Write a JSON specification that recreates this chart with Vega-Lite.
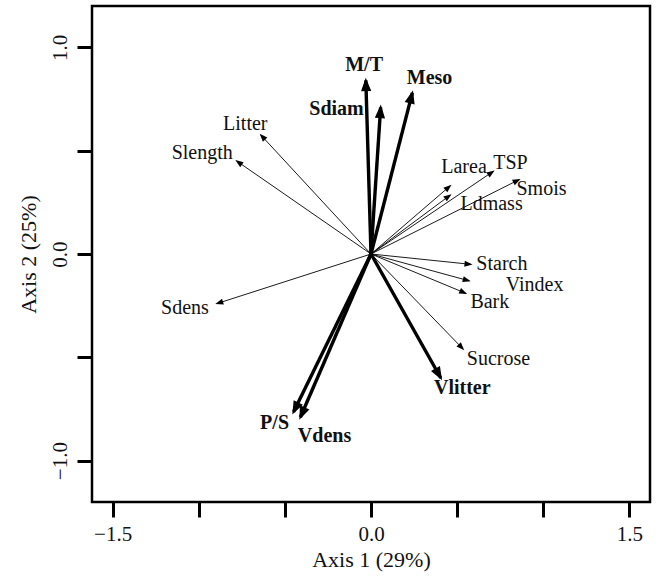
{
  "$schema": "https://vega.github.io/schema/vega-lite/v6.json",
  "width": 558,
  "height": 496,
  "autosize": {"type": "none"},
  "padding": {"left": 92, "top": 6, "right": 6, "bottom": 76},
  "background": "white",
  "config": {
    "view": {"stroke": "#000", "strokeWidth": 2.5},
    "font": "Liberation Serif",
    "axis": {
      "domain": false,
      "grid": false,
      "tickColor": "#000",
      "tickSize": 15,
      "tickWidth": 3,
      "labelFont": "Liberation Serif",
      "labelFontSize": 21,
      "labelColor": "#111",
      "titleFont": "Liberation Serif",
      "titleFontSize": 22,
      "titleFontWeight": "normal",
      "titleColor": "#111"
    }
  },
  "data": {
    "values": [
      {"name": "M/T", "x": -0.03, "y": 0.84, "lx": -0.04, "ly": 0.915, "type": "bold"},
      {"name": "Sdiam", "x": 0.056, "y": 0.71, "lx": -0.2, "ly": 0.7, "type": "bold"},
      {"name": "Meso", "x": 0.24, "y": 0.78, "lx": 0.34, "ly": 0.85, "type": "bold"},
      {"name": "Larea", "x": 0.46, "y": 0.33, "lx": 0.54, "ly": 0.42, "type": "thin"},
      {"name": "Ldmass", "x": 0.46, "y": 0.285, "lx": 0.7, "ly": 0.24, "type": "thin"},
      {"name": "TSP", "x": 0.71, "y": 0.4, "lx": 0.81, "ly": 0.44, "type": "thin"},
      {"name": "Smois", "x": 0.86, "y": 0.36, "lx": 0.99, "ly": 0.315, "type": "thin"},
      {"name": "Starch", "x": 0.58, "y": -0.05, "lx": 0.76, "ly": -0.05, "type": "thin"},
      {"name": "Vindex", "x": 0.57, "y": -0.13, "lx": 0.95, "ly": -0.15, "type": "thin"},
      {"name": "Bark", "x": 0.55, "y": -0.19, "lx": 0.69, "ly": -0.23, "type": "thin"},
      {"name": "Sucrose", "x": 0.535, "y": -0.46, "lx": 0.74, "ly": -0.51, "type": "thin"},
      {"name": "Vlitter", "x": 0.405, "y": -0.6, "lx": 0.53, "ly": -0.65, "type": "bold"},
      {"name": "P/S", "x": -0.45, "y": -0.765, "lx": -0.56, "ly": -0.82, "type": "bold"},
      {"name": "Vdens", "x": -0.41, "y": -0.79, "lx": -0.27, "ly": -0.88, "type": "bold"},
      {"name": "Sdens", "x": -0.895, "y": -0.24, "lx": -1.08, "ly": -0.26, "type": "thin"},
      {"name": "Litter", "x": -0.64, "y": 0.576, "lx": -0.73, "ly": 0.63, "type": "thin"},
      {"name": "Slength", "x": -0.78, "y": 0.45, "lx": -0.98, "ly": 0.49, "type": "thin"}
    ]
  },
  "encoding": {
    "x": {
      "field": "x", "type": "quantitative",
      "scale": {"domain": [-1.62, 1.62], "nice": false, "zero": false},
      "axis": {
        "title": "Axis 1 (29%)",
        "values": [-1.5, -1, -0.5, 0, 0.5, 1, 1.5],
        "labelExpr": "(abs(datum.value) == 1.5 || datum.value == 0) ? format(datum.value, '.1f') : ''",
        "labelPadding": 6,
        "titlePadding": 5
      }
    },
    "y": {
      "field": "y", "type": "quantitative",
      "scale": {"domain": [-1.2, 1.2], "nice": false, "zero": false},
      "axis": {
        "title": "Axis 2 (25%)",
        "values": [-1, -0.5, 0, 0.5, 1],
        "labelExpr": "(abs(datum.value) == 1 || datum.value == 0) ? format(datum.value, '.1f') : ''",
        "labelAngle": -90,
        "labelAlign": "center",
        "labelBaseline": "bottom",
        "labelPadding": 7,
        "titlePadding": 9
      }
    }
  },
  "layer": [
    {
      "data": {"values": [{"v": 0}]},
      "mark": {"type": "rule", "color": "#777", "strokeWidth": 1, "strokeDash": [2, 2]},
      "encoding": {"x": {"datum": 0, "type": "quantitative"}, "y": null}
    },
    {
      "data": {"values": [{"v": 0}]},
      "mark": {"type": "rule", "color": "#777", "strokeWidth": 1, "strokeDash": [2, 2]},
      "encoding": {"y": {"datum": 0, "type": "quantitative"}, "x": null}
    },
    {
      "mark": {"type": "rule", "color": "#000", "strokeCap": "butt"},
      "encoding": {
        "x2": {"datum": 0},
        "y2": {"datum": 0},
        "strokeWidth": {"field": "type", "type": "nominal", "scale": {"domain": ["thin", "bold"], "range": [0.9, 3.4]}, "legend": null}
      }
    },
    {
      "transform": [{"calculate": "atan2(datum.x * 172.2, datum.y * 206.7) * 180 / PI", "as": "ang"}],
      "mark": {"type": "point", "shape": "M0,-0.2L-0.38,0.8L0.38,0.8Z", "filled": true, "color": "#000", "opacity": 1},
      "encoding": {
        "angle": {"field": "ang", "type": "quantitative", "scale": null},
        "size": {"field": "type", "type": "nominal", "scale": {"domain": ["thin", "bold"], "range": [256, 729]}, "legend": null}
      }
    },
    {
      "transform": [{"filter": "datum.type == 'thin'"}],
      "mark": {"type": "text", "font": "Liberation Serif", "fontSize": 20, "color": "#111", "align": "center", "baseline": "middle"},
      "encoding": {
        "x": {"field": "lx", "type": "quantitative"},
        "y": {"field": "ly", "type": "quantitative"},
        "text": {"field": "name"}
      }
    },
    {
      "transform": [{"filter": "datum.type == 'bold'"}],
      "mark": {"type": "text", "font": "Liberation Serif", "fontSize": 20, "fontWeight": "bold", "color": "#111", "align": "center", "baseline": "middle"},
      "encoding": {
        "x": {"field": "lx", "type": "quantitative"},
        "y": {"field": "ly", "type": "quantitative"},
        "text": {"field": "name"}
      }
    }
  ]
}
